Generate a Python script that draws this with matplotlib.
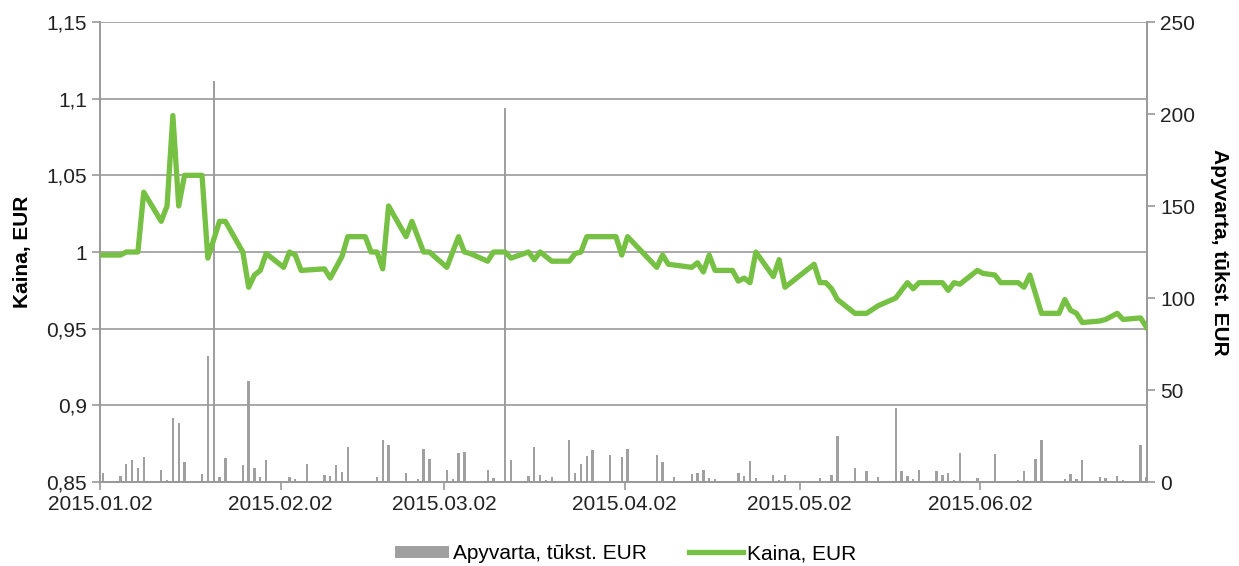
import numpy as np
from matplotlib import pyplot as plt
from matplotlib.lines import Line2D
from matplotlib.patches import Patch

plt.rcParams['font.family'] = ['Liberation Sans', 'DejaVu Sans']

# Price (Kaina, EUR) - turning points of the line
price_dates = [
    '2015-01-02', '2015-01-05', '2015-01-06', '2015-01-08', '2015-01-09', '2015-01-12',
    '2015-01-13', '2015-01-14', '2015-01-15', '2015-01-16', '2015-01-19', '2015-01-20',
    '2015-01-22', '2015-01-23', '2015-01-26', '2015-01-27', '2015-01-28', '2015-01-29',
    '2015-01-30', '2015-02-02', '2015-02-03', '2015-02-04', '2015-02-05', '2015-02-09',
    '2015-02-10', '2015-02-12', '2015-02-13', '2015-02-16', '2015-02-17', '2015-02-18',
    '2015-02-19', '2015-02-20', '2015-02-23', '2015-02-24', '2015-02-26', '2015-02-27',
    '2015-03-02', '2015-03-04', '2015-03-05', '2015-03-06', '2015-03-09', '2015-03-10',
    '2015-03-12', '2015-03-13', '2015-03-16', '2015-03-17', '2015-03-18', '2015-03-20',
    '2015-03-23', '2015-03-24', '2015-03-25', '2015-03-26', '2015-03-31', '2015-04-01',
    '2015-04-02', '2015-04-07', '2015-04-08', '2015-04-09', '2015-04-13', '2015-04-14',
    '2015-04-15', '2015-04-16', '2015-04-17', '2015-04-20', '2015-04-21', '2015-04-22',
    '2015-04-23', '2015-04-24', '2015-04-27', '2015-04-28', '2015-04-29', '2015-05-04',
    '2015-05-05', '2015-05-06', '2015-05-07', '2015-05-08', '2015-05-11', '2015-05-13',
    '2015-05-15', '2015-05-18', '2015-05-20', '2015-05-21', '2015-05-22', '2015-05-26',
    '2015-05-27', '2015-05-28', '2015-05-29', '2015-06-01', '2015-06-02', '2015-06-04',
    '2015-06-05', '2015-06-08', '2015-06-09', '2015-06-10', '2015-06-12', '2015-06-15',
    '2015-06-16', '2015-06-17', '2015-06-18', '2015-06-19', '2015-06-22', '2015-06-23',
    '2015-06-25', '2015-06-26', '2015-06-29', '2015-06-30']
price = [
    0.998, 0.998, 1.0, 1.0, 1.039, 1.02,
    1.03, 1.089, 1.03, 1.05, 1.05, 0.996,
    1.02, 1.02, 1.0, 0.977, 0.985, 0.988,
    0.999, 0.99, 1.0, 0.998, 0.988, 0.989,
    0.983, 0.997, 1.01, 1.01, 1.0, 1.0,
    0.989, 1.03, 1.01, 1.02, 1.0, 1.0,
    0.99, 1.01, 1.0, 0.999, 0.994, 1.0,
    1.0, 0.996, 1.0, 0.995, 1.0, 0.994,
    0.994, 0.999, 1.0, 1.01, 1.01, 0.998,
    1.01, 0.99, 0.998, 0.992, 0.99, 0.993,
    0.987, 0.998, 0.988, 0.988, 0.981, 0.983,
    0.98, 1.0, 0.984, 0.995, 0.977, 0.992,
    0.98, 0.98, 0.976, 0.969, 0.96, 0.96,
    0.965, 0.97, 0.98, 0.976, 0.98, 0.98,
    0.975, 0.98, 0.979, 0.988, 0.986, 0.985,
    0.98, 0.98, 0.977, 0.985, 0.96, 0.96,
    0.969, 0.962, 0.96, 0.954, 0.955, 0.956,
    0.96, 0.956, 0.957, 0.951]

# Turnover (Apyvarta, tukst. EUR)
turnover_dates = [
    '2015-01-02', '2015-01-05', '2015-01-06', '2015-01-07', '2015-01-08', '2015-01-09',
    '2015-01-12', '2015-01-13', '2015-01-14', '2015-01-15', '2015-01-16', '2015-01-19',
    '2015-01-20', '2015-01-21', '2015-01-22', '2015-01-23', '2015-01-26', '2015-01-27',
    '2015-01-28', '2015-01-29', '2015-01-30', '2015-02-02', '2015-02-03', '2015-02-04',
    '2015-02-05', '2015-02-06', '2015-02-09', '2015-02-10', '2015-02-11', '2015-02-12',
    '2015-02-13', '2015-02-17', '2015-02-18', '2015-02-19', '2015-02-20', '2015-02-23',
    '2015-02-25', '2015-02-26', '2015-02-27', '2015-03-02', '2015-03-03', '2015-03-04',
    '2015-03-05', '2015-03-09', '2015-03-10', '2015-03-12', '2015-03-13', '2015-03-16',
    '2015-03-17', '2015-03-18', '2015-03-19', '2015-03-20', '2015-03-23', '2015-03-24',
    '2015-03-25', '2015-03-26', '2015-03-27', '2015-03-30', '2015-03-31', '2015-04-01',
    '2015-04-02', '2015-04-07', '2015-04-08', '2015-04-09', '2015-04-10', '2015-04-13',
    '2015-04-14', '2015-04-15', '2015-04-16', '2015-04-17', '2015-04-21', '2015-04-22',
    '2015-04-23', '2015-04-24', '2015-04-27', '2015-04-28', '2015-04-29', '2015-04-30',
    '2015-05-05', '2015-05-07', '2015-05-08', '2015-05-11', '2015-05-13', '2015-05-15',
    '2015-05-18', '2015-05-19', '2015-05-20', '2015-05-21', '2015-05-22', '2015-05-25',
    '2015-05-26', '2015-05-27', '2015-05-28', '2015-05-29', '2015-06-01', '2015-06-03',
    '2015-06-04', '2015-06-05', '2015-06-08', '2015-06-09', '2015-06-11', '2015-06-12',
    '2015-06-16', '2015-06-17', '2015-06-18', '2015-06-19', '2015-06-22', '2015-06-23',
    '2015-06-25', '2015-06-26', '2015-06-29', '2015-06-30']
turnover = [
    5.1, 3.4, 9.6, 12.2, 7.8, 13.6,
    6.3, 1.0, 34.8, 31.9, 10.7, 4.1,
    68.3, 218, 2.9, 12.9, 9.2, 55.1,
    7.6, 2.5, 12.0, 0.5, 2.7, 1.9,
    0.8, 9.6, 3.6, 3.2, 9.2, 5.2,
    18.8, 0.8, 2.9, 23.0, 19.9, 4.7,
    1.8, 18.1, 12.5, 6.5, 1.4, 15.6,
    16.5, 6.5, 2.0, 203, 12.0, 3.4,
    18.8, 3.9, 1.3, 2.9, 22.8, 4.7,
    9.7, 13.9, 17.6, 14.8, 0.5, 13.4,
    17.8, 14.8, 10.7, 0.8, 2.5, 4.1,
    4.8, 6.7, 2.0, 1.8, 4.8, 3.2,
    11.2, 2.3, 3.8, 0.9, 3.6, 0.5,
    2.0, 3.8, 25.0, 7.8, 5.8, 2.9,
    40.0, 5.8, 3.2, 1.4, 6.3, 5.8,
    3.6, 5.1, 0.9, 16.0, 2.3, 0.4,
    15.4, 0.4, 0.9, 5.8, 12.5, 22.8,
    1.4, 4.5, 1.4, 11.8, 2.5, 2.0,
    3.1, 1.0, 19.9, 2.7]

tick_dates = ['2015-01-02', '2015-02-02', '2015-03-02', '2015-04-02', '2015-05-02', '2015-06-02']
tick_labels = ['2015.01.02', '2015.02.02', '2015.03.02', '2015.04.02', '2015.05.02', '2015.06.02']

start = np.datetime64('2015-01-02')
def day_no(dates):
    return (np.array(dates, dtype='datetime64[D]') - start).astype(float)

# points sit in the middle of each day slot
px = day_no(price_dates) + 0.5
tx = day_no(turnover_dates) + 0.5

green = '#76C043'
bar_gray = '#A0A0A0'
axis_gray = '#999999'

fig = plt.figure(figsize=(12.39, 5.66), dpi=100)
ax = fig.add_axes([100/1239, 84/566, 1047/1239, 460/566])
ax2 = ax.twinx()

# bars on the right axis, line on the left axis drawn above them
ax2.bar(tx, turnover, width=0.4, color=bar_gray, zorder=2)
ax.plot(px, price, color=green, linewidth=3.8, solid_joinstyle='round', zorder=3)
ax.set_zorder(ax2.get_zorder() + 1)
ax.patch.set_visible(False)

ax.set_xlim(0, 179.6)
ax.set_ylim(0.85, 1.15)
ax2.set_ylim(0, 250)

yt = [0.85, 0.9, 0.95, 1.0, 1.05, 1.1, 1.15]
ax.set_yticks(yt)
ax.set_yticklabels([('%g' % v).replace('.', ',') for v in yt])
ax2.set_yticks([0, 50, 100, 150, 200, 250])
ax.set_xticks(day_no(tick_dates))
ax.set_xticklabels(tick_labels)

ax.grid(axis='y', color=axis_gray, linewidth=1.2)
ax.set_axisbelow(True)
for a in (ax, ax2):
    a.spines['top'].set_visible(False)
    for s in ('left', 'right', 'bottom'):
        a.spines[s].set_color(axis_gray)
        a.spines[s].set_linewidth(1.2)
    a.tick_params(colors=axis_gray, labelcolor='#222222', labelsize=15, length=6, width=1.2)
ax.tick_params(axis='x', pad=3)

ax.set_ylabel('Kaina, EUR', fontsize=15, fontweight='bold', labelpad=10)
ax2.set_ylabel('Apyvarta, tūkst. EUR', fontsize=15, fontweight='bold', rotation=-90, labelpad=24)

handles = [Patch(facecolor=bar_gray, edgecolor='none'),
           Line2D([], [], color=green, linewidth=3.8)]
fig.legend(handles, ['Apyvarta, tūkst. EUR', 'Kaina, EUR'], loc='lower center',
           bbox_to_anchor=(0.505, -0.028), ncol=2, frameon=False, fontsize=15,
           handlelength=2.6, handleheight=0.5, columnspacing=2.0, handletextpad=0.2)

fig.savefig('out.png', dpi=100)
